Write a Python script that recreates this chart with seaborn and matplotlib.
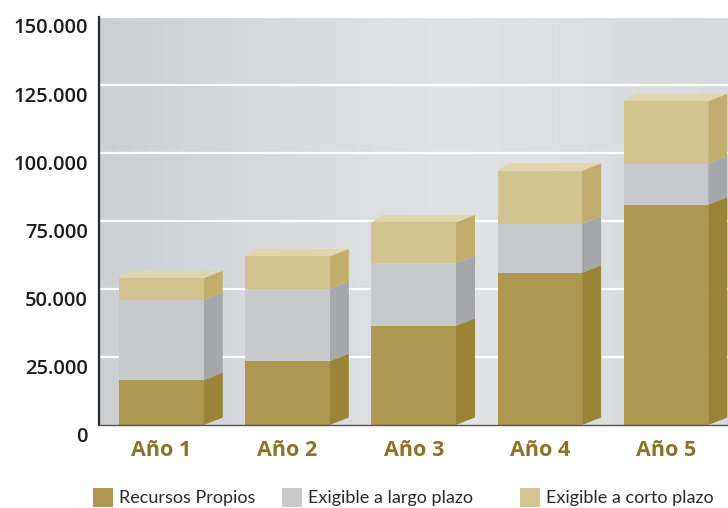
import numpy as np
import pandas as pd
import matplotlib
matplotlib.use("Agg")
import matplotlib.pyplot as plt
from matplotlib.patches import Polygon, Rectangle
from matplotlib.colors import LinearSegmentedColormap
from matplotlib.transforms import ScaledTranslation
import seaborn as sns

# ---- data -------------------------------------------------------------
years = ["Año 1", "Año 2", "Año 3", "Año 4", "Año 5"]
recursos_propios = [16500, 23500, 36500, 56000, 81000]
exigible_largo = [29500, 26500, 23000, 18000, 15000]
exigible_corto = [8000, 12000, 15000, 19500, 23000]
series_names = ["Recursos Propios", "Exigible a largo plazo", "Exigible a corto plazo"]
y_ticks = [0, 25000, 50000, 75000, 100000, 125000, 150000]
y_tick_labels = ["0", "25.000", "50.000", "75.000", "100.000", "125.000", "150.000"]

# ---- colours: (front, side, top) per series ----------------------------
faces = {
    "Recursos Propios": ("#ae9851", "#9b8436", "#c2ad6e"),
    "Exigible a largo plazo": ("#c7c9cc", "#a5a7aa", "#d6d8da"),
    "Exigible a corto plazo": ("#d3c38f", "#c3ad6c", "#e0d5ac"),
}
legend_colors = ["#ad9752", "#c9c9c9", "#d4c491"]

sns.set_theme(style="white")
plt.rcParams["font.family"] = ["Open Sans", "DejaVu Sans"]

fig = plt.figure(figsize=(7.28, 5.08), dpi=100)
ax = fig.add_axes([99 / 728, 83 / 508, 629 / 728, 408 / 508])

# stacked totals, drawn largest first so each lower segment sits on top
bottoms = np.zeros(len(years))
stack = []
for name, vals in zip(series_names, [recursos_propios, exigible_largo, exigible_corto]):
    vals = np.asarray(vals, dtype=float)
    stack.append((name, bottoms.copy(), bottoms + vals))
    bottoms = bottoms + vals

rows = []
for name, lo, hi in stack:
    for yr, top in zip(years, hi):
        rows.append({"year": yr, "serie": name, "total": top})
df = pd.DataFrame(rows)

hue_order = series_names[::-1]
sns.barplot(data=df, x="year", y="total", hue="serie", hue_order=hue_order,
            order=years, dodge=False, width=0.67, saturation=1,
            palette={n: faces[n][0] for n in series_names},
            linewidth=0, edgecolor="none", legend=False, ax=ax, zorder=3)

ax.set_xlim(-0.4956, 4.492)
ax.set_ylim(0, 150000)

# soft horizontal gradient behind the plot
bg = LinearSegmentedColormap.from_list(
    "bg", [(0.0, "#cdd0d3"), (0.55, "#e2e3e5"), (1.0, "#d7d9dc")])
ax.imshow(np.linspace(0, 1, 256)[None, :], cmap=bg, aspect="auto",
          extent=(0, 1, 0, 1), transform=ax.transAxes, zorder=0)
ax.set_xlim(-0.4956, 4.492)
ax.set_ylim(0, 150000)

ax.set_yticks(y_ticks)
ax.set_yticklabels(y_tick_labels)
for v in y_ticks[1:]:
    ax.axhline(v, color="white", lw=1.6, zorder=1)

# 3D depth expressed in data units
fig.canvas.draw()
p0 = ax.transData.transform((0, 0))
p1 = ax.transData.transform((1, 25000))
px_x = p1[0] - p0[0]
px_y = (p1[1] - p0[1]) / 25000
dx_side = 19 / px_x
dx_back_left = 12 / px_x
dy = 7.5 / px_y

half = 0.67 / 2
for i in range(len(years)):
    x0, x1 = i - half, i + half
    for name, lo, hi in stack:
        b, t = lo[i], hi[i]
        front, side, top = faces[name]
        ax.add_patch(Polygon([(x1, b), (x1 + dx_side, b + dy),
                              (x1 + dx_side, t + dy), (x1, t)],
                             closed=True, facecolor=side, edgecolor="none",
                             zorder=2.5, clip_on=False))
    name, lo, hi = stack[-1]
    T = hi[i]
    ax.add_patch(Polygon([(x0, T), (x0 + dx_back_left, T + dy),
                          (x1 + dx_side, T + dy), (x1, T)],
                         closed=True, facecolor=faces[name][2],
                         edgecolor="none", zorder=2.5))

# axes styling
for s in ["top", "right"]:
    ax.spines[s].set_visible(False)
ax.spines["left"].set_color("#2a2a2a")
ax.spines["left"].set_linewidth(1.6)
ax.spines["left"].set_zorder(5)
ax.spines["bottom"].set_color("#555555")
ax.spines["bottom"].set_linewidth(1.0)
ax.spines["bottom"].set_zorder(5)
ax.set_xlabel("")
ax.set_ylabel("")

ax.tick_params(axis="y", length=0, pad=8, labelsize=14.5, labelcolor="#1c1c1c")
for lab in ax.get_yticklabels():
    lab.set_fontweight("semibold")
    lab.set_transform(lab.get_transform() +
                      ScaledTranslation(0, -9 / 100, fig.dpi_scale_trans))

ax.set_xticks(range(len(years)))
ax.set_xticklabels(years)
ax.tick_params(axis="x", which="major", length=0, pad=11, labelsize=15.5,
               labelcolor="#8b7327")
for lab in ax.get_xticklabels():
    lab.set_fontweight("bold")
ax.set_xticks([i + 0.5 for i in range(len(years) - 1)], minor=True)
ax.tick_params(axis="x", which="minor", direction="in", length=7, width=1,
               color="#555555")

# legend row beneath the chart
legend_x = [93, 282, 520]
for x, name, col in zip(legend_x, series_names, legend_colors):
    fig.patches.append(Rectangle((x / 728, 1 / 508), 20 / 728, 19 / 508,
                                 transform=fig.transFigure, facecolor=col,
                                 edgecolor="none"))
    fig.text((x + 26) / 728, 10 / 508, name, ha="left", va="center",
             fontsize=13, color="#2a2a2a", family=["Lato", "DejaVu Sans"])

fig.savefig("out.png", dpi=100)
